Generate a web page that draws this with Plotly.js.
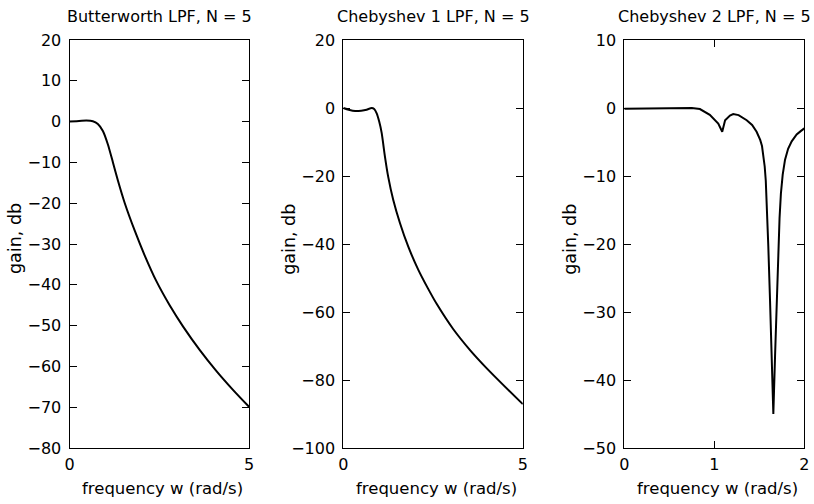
<!DOCTYPE html>
<html>
<head>
<meta charset="utf-8">
<script src="https://cdn.plot.ly/plotly-3.0.1.min.js"></script>
<style>html,body{margin:0;padding:0;background:#fff;}#chart{width:814px;height:504px;}</style>
</head>
<body>
<div id="chart"></div>
<script>
// Butterworth LPF, N = 5
var bwFreq = [0, 0.2, 0.47, 0.65, 0.79, 0.93, 1.07, 1.21, 1.35, 1.54, 1.82, 2.09, 2.42, 2.79, 3.17, 3.63, 4.10, 4.56, 5.0];
var bwGain = [0, 0.1, 0.25, 0.1, -0.6, -2.3, -5.6, -10, -14.5, -20, -26.8, -32.7, -39.1, -45.0, -50.3, -56.0, -61.2, -65.8, -69.9];

// Chebyshev 1 LPF, N = 5
var c1Freq = [0, 0.15, 0.33, 0.5, 0.65, 0.79, 0.86, 0.93, 1.0, 1.07, 1.16, 1.25, 1.39, 1.58, 1.81, 2.09, 2.35, 2.60, 3.06, 3.53, 3.99, 4.46, 5.0];
var c1Gain = [0, -0.5, -0.9, -0.8, -0.5, 0, -0.3, -1.6, -4, -7.4, -14.3, -20.2, -27, -33.9, -40.8, -47.6, -52.9, -57.6, -65.0, -71.2, -76.5, -81.5, -87.1];

// Chebyshev 2 LPF, N = 5
var c2Freq = [0, 0.3, 0.6, 0.75, 0.84, 0.95, 1.044, 1.088, 1.12, 1.174, 1.21, 1.27, 1.36, 1.42, 1.47, 1.51, 1.53, 1.544, 1.56, 1.572, 1.582, 1.60, 1.619, 1.637, 1.656, 1.675, 1.693, 1.71, 1.725, 1.74, 1.76, 1.786, 1.82, 1.86, 1.915, 1.96, 2.0];
var c2Gain = [-0.1, -0.1, 0, 0, -0.15, -1.0, -2.3, -3.5, -1.8, -1.1, -0.9, -1.05, -1.8, -2.5, -3.5, -4.7, -5.6, -6.7, -8.6, -10.7, -13.5, -20.3, -28.2, -36.5, -45, -36.5, -28.2, -21.3, -16.2, -12.6, -9.8, -7.6, -6.0, -4.9, -3.9, -3.4, -3.0];

var titles = ['Butterworth LPF, N = 5', 'Chebyshev 1 LPF, N = 5', 'Chebyshev 2 LPF, N = 5'];
var xTickVals = [[0, 5], [0, 5], [0, 1, 2]];
var xRanges = [[0, 5], [0, 5], [0, 2]];
var yRanges = [[-80, 20], [-100, 20], [-50, 10]];
var yDticks = [10, 20, 10];
var xLabel = 'frequency w (rad/s)';
var yLabel = 'gain, db';

var W = 814, H = 504;
var FONT = 'DejaVu Sans, Liberation Sans, Arial, sans-serif';
var plotLeft = [69.5, 343.3, 624.3], plotRight = [249, 522.8, 804.3];
var plotTop = 40, plotBottom = 448;

var traces = [
  {x: bwFreq, y: bwGain, xaxis: 'x', yaxis: 'y', shape: 'spline'},
  {x: c1Freq, y: c1Gain, xaxis: 'x2', yaxis: 'y2', shape: 'spline'},
  {x: c2Freq, y: c2Gain, xaxis: 'x3', yaxis: 'y3', shape: 'linear'}
].map(function (t) {
  return {x: t.x, y: t.y, xaxis: t.xaxis, yaxis: t.yaxis, type: 'scatter', mode: 'lines',
          line: {color: '#000', width: 2, shape: t.shape, smoothing: 0.6}, hoverinfo: 'none'};
});

var layout = {
  width: W, height: H,
  margin: {l: 0, r: 0, t: 0, b: 0},
  paper_bgcolor: '#fff', plot_bgcolor: '#fff',
  showlegend: false,
  font: {family: FONT, size: 16, color: '#000'},
  annotations: []
};

for (var i = 0; i < 3; i++) {
  var sfx = i === 0 ? '' : String(i + 1);
  var common = {
    showline: true, linecolor: '#000', linewidth: 1, mirror: 'ticks',
    ticks: 'inside', ticklen: 7, tickwidth: 1, tickcolor: '#000',
    showgrid: false, zeroline: false, automargin: false, fixedrange: true,
    tickfont: {family: FONT, size: 16, color: '#000'}
  };
  layout['xaxis' + sfx] = Object.assign({}, common, {
    domain: [plotLeft[i] / W, plotRight[i] / W],
    range: xRanges[i], tickmode: 'array', tickvals: xTickVals[i],
    ticklabelstandoff: 2,
    anchor: 'y' + sfx
  });
  layout['yaxis' + sfx] = Object.assign({}, common, {
    domain: [1 - plotBottom / H, 1 - plotTop / H],
    range: yRanges[i], tickmode: 'linear', tick0: 0, dtick: yDticks[i],
    ticklabelstandoff: 4,
    anchor: 'x' + sfx
  });
  var cx = (plotLeft[i] + plotRight[i]) / 2;
  layout.annotations.push({
    text: titles[i], xref: 'paper', yref: 'paper', x: cx / W, y: 1 - 17 / H,
    xanchor: 'center', yanchor: 'middle', showarrow: false, font: {family: FONT, size: 16, color: '#000'}
  });
  layout.annotations.push({
    text: xLabel, xref: 'paper', yref: 'paper', x: (cx + 3) / W, y: 1 - 488 / H,
    xanchor: 'center', yanchor: 'middle', showarrow: false, font: {family: FONT, size: 16.5, color: '#000'}
  });
  layout.annotations.push({
    text: yLabel, xref: 'paper', yref: 'paper', x: (plotLeft[i] - 54.5) / W, y: 1 - 239 / H,
    xanchor: 'center', yanchor: 'middle', textangle: -90, showarrow: false,
    font: {family: FONT, size: 17.5, color: '#000'}
  });
}

Plotly.newPlot('chart', traces, layout, {staticPlot: true, displayModeBar: false});
</script>
</body>
</html>
